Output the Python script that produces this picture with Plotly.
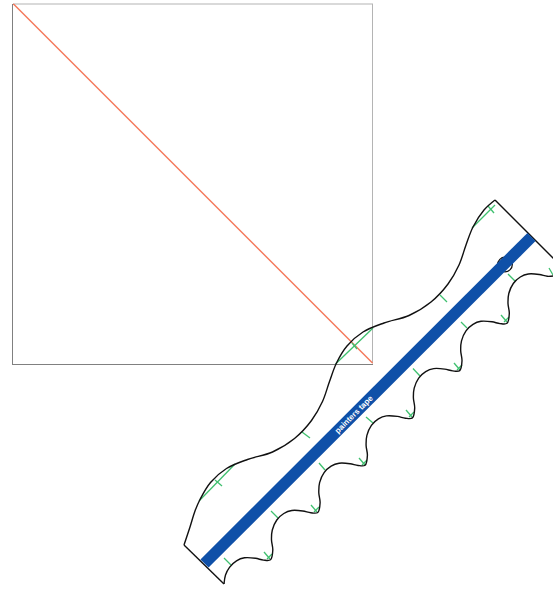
import plotly.graph_objects as go

# Reference line of the unit square
diag_x = [0, 1]
diag_y = [1, 0]
frame_x = [0, 1, 1]
frame_y = [1, 1, 0]

# Paper outline, page units
top_curve_x = [184, 190, 195, 200, 210.5, 226.5, 247.5, 272.5, 294.5, 311.5, 322.5, 329.5, 336.5, 347, 363, 384, 409, 431, 448, 459, 466, 473, 484, 495]
top_curve_y = [545, 527, 511, 499.5, 482.5, 468.5, 459.5, 452, 438.5, 420.5, 401.5, 381.5, 363, 346, 332, 323, 315.5, 302, 284, 265, 245, 227, 210, 200]
end_left_x = [184, 224]
end_left_y = [545, 584]
end_right_x = [495, 565]
end_right_y = [200, 270]

bottom_curve_x = [567, 554.3, 547.3, 539.3, 528.3, 520.3, 513.3, 508.8, 508, 509.3,
                  507, 500, 492, 481, 473, 466, 461.5, 460.7, 462,
                  459.7, 452.7, 444.7, 433.7, 425.7, 418.7, 414.2, 413.4, 414.7,
                  412.4, 405.4, 397.4, 386.4, 378.4, 371.4, 366.9, 366.1, 367.4,
                  365.1, 358.1, 350.1, 339.1, 331.1, 324.1, 319.6, 318.8, 320.1,
                  317.8, 310.8, 302.8, 291.8, 283.8, 276.8, 272.3, 271.5, 272.8,
                  270.5, 263.5, 255.5, 244.5, 236.5, 229.5, 225.5, 224]
bottom_curve_y = [277, 276, 276.3, 274.5, 274, 277, 283.5, 293.5, 303.5, 313.5,
                  323.3, 323.6, 321.8, 321.3, 324.3, 330.8, 340.8, 350.8, 360.8,
                  370.6, 370.9, 369.1, 368.6, 371.6, 378.1, 388.1, 398.1, 408.1,
                  417.9, 418.2, 416.4, 415.9, 418.9, 425.4, 435.4, 445.4, 455.4,
                  465.2, 465.5, 463.7, 463.2, 466.2, 472.7, 482.7, 492.7, 502.7,
                  512.5, 512.8, 511, 510.5, 513.5, 520, 530, 540, 550,
                  559.8, 560.1, 558.3, 557.8, 560.8, 567.3, 575, 584]

# Painter's tape
tape_x = [204.5, 531.5]
tape_y = [563.5, 237]
tape_label = "painters tape"

# Small circle behind the tape
circle_center = (505, 264.5)
circle_radius = 7.3

# Green marks as start and end pairs
green_long = [
    ((472, 228), (495, 205)), ((335.5, 364), (373, 328)), ((199, 501), (235, 464)),
]
green_ticks = [
    ((488, 206), (494, 213)), ((352, 343), (357, 349)), ((215, 480), (222, 486)),
    ((440, 295), (447, 302)), ((302, 432), (310, 438)),
    ((508, 274), (515, 281)), ((461, 322), (467, 328)), ((413, 368.5), (420, 376)),
    ((366, 417), (373, 423)), ((319, 463), (325, 470)), ((271, 511), (278, 518)),
    ((224, 558), (231, 565)), ((549, 268), (553, 275)),
    ((501, 315), (507, 322)), ((504, 322), (509, 317)),
    ((454, 363), (460, 370)), ((457, 370), (462, 365)),
    ((406, 410), (412, 417)), ((409, 417), (414, 412)),
    ((359, 458), (365, 465)), ((362, 465), (367, 460)),
    ((311, 505), (317, 512)), ((314, 512), (319, 507)),
    ((264, 552), (270, 559)), ((267, 559), (272, 554)),
]

BLACK = "#111111"
GREEN = "#3fc06f"
ORANGE = "#f4775a"
BLUE = "#0f50a8"

fig = go.Figure()


def pairs(items):
    xs, ys = [], []
    for (a, b), (c, d) in items:
        xs += [a, c, None]
        ys += [b, d, None]
    return xs, ys


def add_page(x, y, color, width, shape="linear", smoothing=None):
    line = dict(color=color, width=width, shape=shape)
    if smoothing is not None:
        line["smoothing"] = smoothing
    fig.add_trace(go.Scatter(x=x, y=y, mode="lines", line=line, xaxis="x2", yaxis="y2",
                             hoverinfo="skip", showlegend=False))


# Square axes
fig.add_trace(go.Scatter(x=frame_x, y=frame_y, mode="lines", line=dict(color="#b4b4b4", width=2),
                         hoverinfo="skip", showlegend=False, cliponaxis=False))
fig.add_trace(go.Scatter(x=diag_x, y=diag_y, mode="lines", line=dict(color=ORANGE, width=1.4),
                         hoverinfo="skip", showlegend=False, cliponaxis=False))

gx, gy = pairs(green_long + green_ticks)
add_page(gx, gy, GREEN, 1.3)
add_page(top_curve_x, top_curve_y, BLACK, 1.4, "spline", 1)
add_page(bottom_curve_x, bottom_curve_y, BLACK, 1.4, "spline", 1)
add_page(end_left_x, end_left_y, BLACK, 1.4)
add_page(end_right_x, end_right_y, BLACK, 1.4)

fig.add_shape(type="circle", xref="x2", yref="y2",
              x0=circle_center[0] - circle_radius, x1=circle_center[0] + circle_radius,
              y0=circle_center[1] - circle_radius, y1=circle_center[1] + circle_radius,
              line=dict(color=BLACK, width=1.3), layer="below")
add_page(tape_x, tape_y, BLUE, 11.5)

fig.add_annotation(x=354, y=414.5, xref="x2", yref="y2", text=tape_label, showarrow=False,
                   textangle=-45, font=dict(family="Liberation Sans", size=8, color="white", weight="bold"))

fig.update_layout(
    width=553, height=590, autosize=False,
    margin=dict(l=0, r=0, t=0, b=0),
    paper_bgcolor="white", plot_bgcolor="rgba(0,0,0,0)",
    showlegend=False,
    xaxis=dict(domain=[13 / 553, 373 / 553], range=[0, 1], showgrid=False, zeroline=False,
               showticklabels=False, ticks="", showline=True, linecolor="#808080", linewidth=1.3),
    yaxis=dict(domain=[(590 - 363.5) / 590, (590 - 3.5) / 590], range=[0, 1], showgrid=False, zeroline=False,
               showticklabels=False, ticks="", showline=True, linecolor="#808080", linewidth=1.3),
    xaxis2=dict(domain=[0, 1], range=[0, 553], visible=False, anchor="y2"),
    yaxis2=dict(domain=[0, 1], range=[590, 0], visible=False, anchor="x2"),
)

fig.write_html("out.html", config=dict(displayModeBar=False),
               post_script="document.body.style.margin='0';document.body.style.overflow='hidden';")
